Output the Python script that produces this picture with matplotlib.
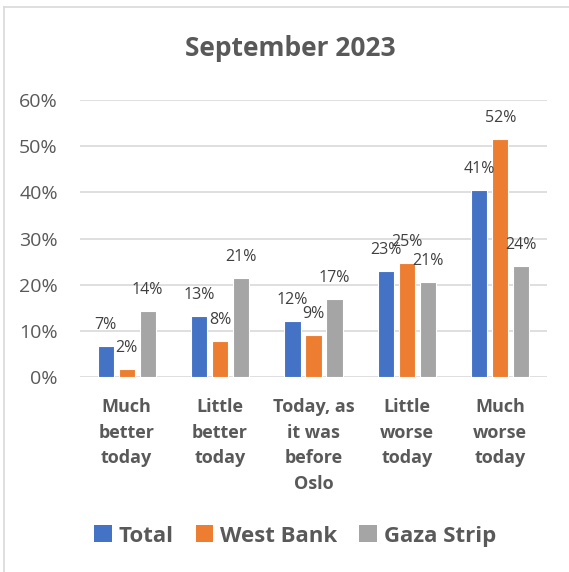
import matplotlib
matplotlib.use("Agg")
import matplotlib.pyplot as plt
from matplotlib.lines import Line2D
from matplotlib.patches import Patch
import numpy as np

categories = ["Much\nbetter\ntoday", "Little\nbetter\ntoday", "Today, as\nit was\nbefore\nOslo",
              "Little\nworse\ntoday", "Much\nworse\ntoday"]
series_names = ["Total", "West Bank", "Gaza Strip"]
total = [6.8, 13.2, 12.1, 23.0, 40.5]
west_bank = [1.7, 7.8, 9.0, 24.7, 51.6]
gaza = [14.3, 21.4, 16.8, 20.5, 24.0]
labels_total = ["7%", "13%", "12%", "23%", "41%"]
labels_wb = ["2%", "8%", "9%", "25%", "52%"]
labels_gaza = ["14%", "21%", "17%", "21%", "24%"]
yticks = [0, 10, 20, 30, 40, 50, 60]

colors = ["#4472C4", "#ED7D31", "#A5A5A5"]
text_color = "#595959"
label_color = "#404040"
font = "Open Sans"

fig = plt.figure(figsize=(5.69, 5.72), dpi=100)
ax = fig.add_axes([80/569, 1 - 377/572, 467/569, 277/572])

x = np.arange(len(categories))
w = 0.172
step = 0.225
all_vals = [total, west_bank, gaza]
all_labels = [labels_total, labels_wb, labels_gaza]
for i, (vals, labs) in enumerate(zip(all_vals, all_labels)):
    pos = x + (i - 1) * step
    ax.bar(pos, vals, width=w, color=colors[i], edgecolor="white", linewidth=0.8, zorder=3)
    for p, v, l in zip(pos, vals, labs):
        ax.annotate(l, (p, v), xytext=(0, 21), textcoords="offset pixels",
                    ha="center", va="center", fontsize=11.5, color=label_color,
                    family=font, zorder=4)

ax.set_xlim(-0.5, len(categories) - 0.5)
ax.set_ylim(0, 60)
ax.set_yticks(yticks)
ax.set_yticklabels([f"{t}%" for t in yticks], fontsize=14, color=text_color, family=font)
ax.set_xticks(x)
ax.set_xticklabels(categories, fontsize=13, color=text_color, family=font,
                   fontweight="bold", va="top", linespacing=1.55)
ax.tick_params(axis="both", length=0)
ax.tick_params(axis="y", pad=16)
ax.tick_params(axis="x", pad=15)
ax.grid(axis="y", color="#D9D9D9", linewidth=1.2, zorder=0)
for s in ax.spines.values():
    s.set_visible(False)

fig.text(290/569, 1 - 48/572, "September 2023", ha="center", va="center",
         fontsize=19, fontweight="bold", color=text_color, family=font)

handles = [Patch(facecolor=c, edgecolor="none") for c in colors]
leg = fig.legend(handles, series_names, loc="center", bbox_to_anchor=(295/569, 1 - 536/572),
                 ncol=3, frameon=False, handlelength=0.8, handleheight=0.8,
                 handletextpad=0.3, columnspacing=1.0,
                 prop={"family": font, "size": 16, "weight": "bold"})
for t in leg.get_texts():
    t.set_color(text_color)

fig.add_artist(Line2D([4/569, 1], [1 - 7/572, 1 - 7/572], color="#D9D9D9", linewidth=1.2,
                      transform=fig.transFigure))
fig.add_artist(Line2D([4/569, 4/569], [0, 1 - 7/572], color="#D9D9D9", linewidth=1.2,
                      transform=fig.transFigure))

fig.savefig("out.png", dpi=100, facecolor="white")
